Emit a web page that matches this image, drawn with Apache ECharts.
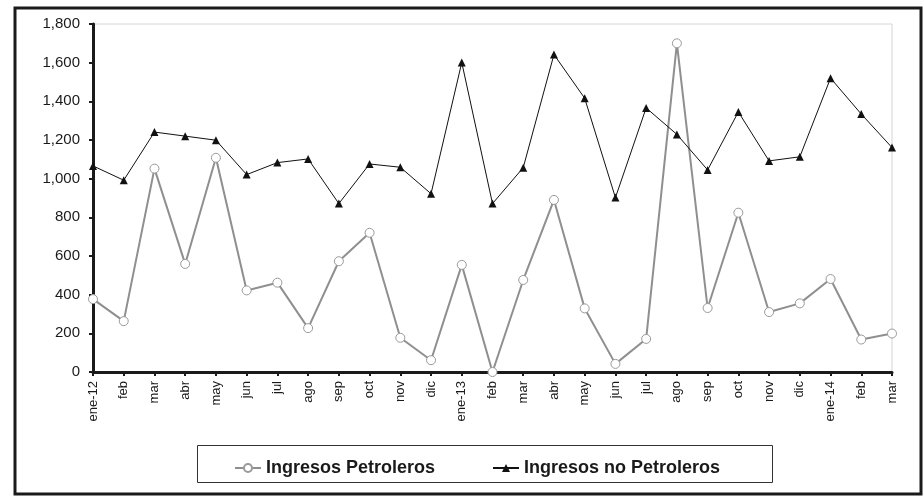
<!DOCTYPE html>
<html>
<head>
<meta charset="utf-8">
<script src="https://cdn.jsdelivr.net/npm/echarts@6/dist/echarts.min.js"></script>
<style>
  html, body { margin: 0; padding: 0; background: #fff; }
  #chart { width: 924px; height: 496px; }
</style>
</head>
<body>
<div id="chart"></div>
<script>
  // meses ene-12 .. mar-14
  var categories = ['ene-12', 'feb', 'mar', 'abr', 'may', 'jun', 'jul', 'ago', 'sep', 'oct', 'nov', 'dic',
    'ene-13', 'feb', 'mar', 'abr', 'may', 'jun', 'jul', 'ago', 'sep', 'oct', 'nov', 'dic',
    'ene-14', 'feb', 'mar']
  var petroleros = [377, 263, 1052, 559, 1108, 422, 462, 227, 573, 720, 177, 61,
    554, 0, 476, 890, 329, 42, 171, 1700, 331, 824, 310, 355,
    481, 168, 199]
  var noPetroleros = [1066, 992, 1241, 1220, 1199, 1021, 1083, 1102, 871, 1076, 1059, 922,
    1601, 871, 1057, 1642, 1416, 902, 1366, 1229, 1045, 1345, 1092, 1113,
    1520, 1334, 1161]
  var yMin = 0
  var yMax = 1800
  var yStep = 200

  var font = 'Liberation Sans, Arial, sans-serif'
  var chart = echarts.init(document.getElementById('chart'))
  chart.setOption({
    animation: false,
    backgroundColor: '#fff',
    textStyle: { fontFamily: font },
    graphic: [
      {
        type: 'rect',
        shape: { x: 15, y: 8, width: 906, height: 486 },
        style: { fill: 'none', stroke: '#1a1a1a', lineWidth: 3 },
        z: 100
      },
      {
        type: 'rect',
        shape: { x: 197.5, y: 445.5, width: 575, height: 37 },
        style: { fill: 'none', stroke: '#333', lineWidth: 1 },
        z: 100
      }
    ],
    legend: [
      {
        data: ['Ingresos Petroleros'],
        left: 229, top: 454,
        itemWidth: 26, itemHeight: 10, itemGap: 0,
        textStyle: { fontSize: 18, fontWeight: 'bold', color: '#1a1a1a', fontFamily: font }
      },
      {
        data: ['Ingresos no Petroleros'],
        left: 487, top: 454,
        itemWidth: 26, itemHeight: 10, itemGap: 0,
        textStyle: { fontSize: 18, fontWeight: 'bold', color: '#1a1a1a', fontFamily: font }
      }
    ],
    grid: {
      left: 93, right: 32, top: 24, bottom: 124,
      show: true, borderColor: '#d4d4d4', borderWidth: 1, backgroundColor: '#fff'
    },
    xAxis: {
      type: 'category',
      boundaryGap: false,
      data: categories,
      axisLine: { lineStyle: { color: '#1a1a1a', width: 3 } },
      axisTick: { show: true, interval: 0, length: 4, lineStyle: { color: '#1a1a1a', width: 2 } },
      axisLabel: { interval: 0, rotate: 90, margin: 9, fontSize: 13, color: '#1a1a1a', fontFamily: font },
      splitLine: { show: false }
    },
    yAxis: {
      type: 'value',
      min: yMin, max: yMax, interval: yStep,
      axisLine: { show: true, lineStyle: { color: '#1a1a1a', width: 3 } },
      axisTick: { show: true, length: 4, lineStyle: { color: '#1a1a1a', width: 2 } },
      axisLabel: {
        margin: 13, fontSize: 15, color: '#1a1a1a', fontFamily: font,
        formatter: function (v) { return v.toLocaleString('en-US') }
      },
      splitLine: { show: false }
    },
    series: [
      {
        name: 'Ingresos Petroleros',
        type: 'line',
        data: petroleros,
        symbol: 'circle',
        symbolSize: 9,
        showAllSymbol: true,
        lineStyle: { color: '#8f8f8f', width: 2 },
        itemStyle: { color: '#fff', borderColor: '#9a9a9a', borderWidth: 1 },
        z: 3
      },
      {
        name: 'Ingresos no Petroleros',
        type: 'line',
        data: noPetroleros,
        symbol: 'triangle',
        symbolSize: 8,
        showAllSymbol: true,
        lineStyle: { color: '#111', width: 1 },
        itemStyle: { color: '#111' },
        z: 4
      }
    ]
  })
</script>
</body>
</html>
